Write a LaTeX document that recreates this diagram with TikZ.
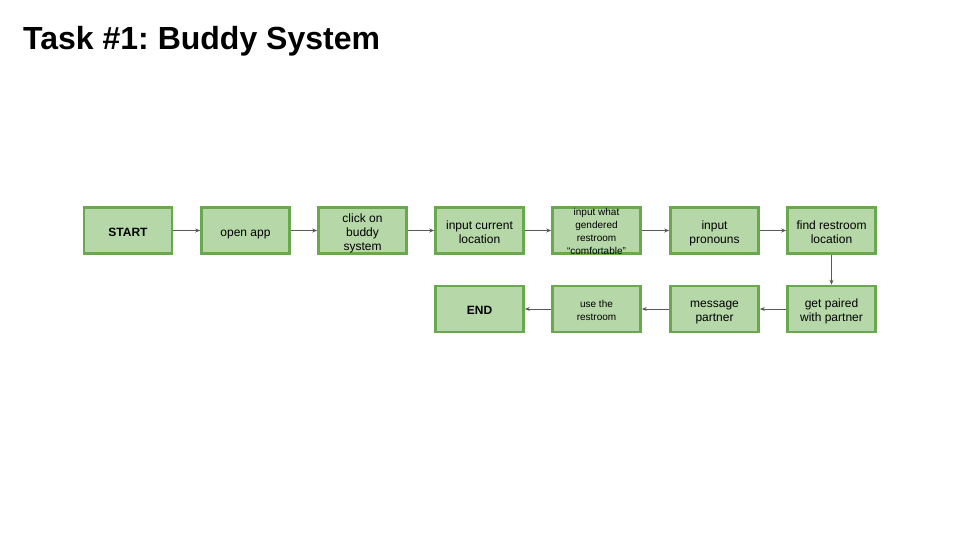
\documentclass[tikz,border=0pt]{standalone}
\usepackage{fontspec}
\setmainfont{Liberation Sans}
\usetikzlibrary{arrows.meta}
\frenchspacing
\newcommand{\boxtext}[2]{\raisebox{#1}[0pt][0pt]{\begin{tabular}{@{}c@{}}#2\end{tabular}}}
\begin{document}
\begin{tikzpicture}[x=1pt,y=-1pt,
  stepbox/.style={draw=boxborder,fill=boxfill,line width=2.6pt,minimum width=88pt,minimum height=46pt,inner sep=0pt,font=\fontsize{12}{14}\selectfont,text=black},
  smallbox/.style={stepbox,font=\fontsize{10}{13}\selectfont},
  conn/.style={draw=arrowgray,line width=0.8pt,-{Stealth[length=5pt,width=4pt]}}]
\definecolor{boxfill}{HTML}{B6D7A8}
\definecolor{boxborder}{HTML}{6AA84F}
\definecolor{arrowgray}{HTML}{595959}
\useasboundingbox (0,0) rectangle (960,540);
\node[anchor=base west,inner sep=0pt,font=\fontsize{32}{38}\selectfont\bfseries] (title) at (23,50) {Task \#1: Buddy System};
\node[stepbox] (s1) at (128,230.5) {\boxtext{-5.8pt}{\textbf{START}}};
\node[stepbox] (s2) at (245.5,230.5) {\boxtext{-5.8pt}{open app}};
\node[stepbox] (s3) at (362.5,230.5) {\boxtext{-5.8pt}{click on\\buddy\\system}};
\node[stepbox] (s4) at (479.5,230.5) {\boxtext{-5.8pt}{input current\\location}};
\node[smallbox] (s5) at (596.5,230.5) {\boxtext{-4.6pt}{input what\\gendered\\restroom\\\char"201C comfortable\char"201D}};
\node[stepbox] (s6) at (714.5,230.5) {\boxtext{-5.8pt}{input\\pronouns}};
\node[stepbox] (s7) at (831.5,230.5) {\boxtext{-5.8pt}{find restroom\\location}};
\node[stepbox] (s8) at (831.5,309) {\boxtext{-5.8pt}{get paired\\with partner}};
\node[stepbox] (s9) at (714.5,309) {\boxtext{-5.8pt}{message\\partner}};
\node[smallbox] (s10) at (596.5,309) {\boxtext{-4.6pt}{use the\\restroom}};
\node[stepbox] (s11) at (479.5,309) {\boxtext{-5.8pt}{\textbf{END}}};
\draw[conn] (s1) -- (s2);
\draw[conn] (s2) -- (s3);
\draw[conn] (s3) -- (s4);
\draw[conn] (s4) -- (s5);
\draw[conn] (s5) -- (s6);
\draw[conn] (s6) -- (s7);
\draw[conn] (s7) -- (s8);
\draw[conn] (s8) -- (s9);
\draw[conn] (s9) -- (s10);
\draw[conn] (s10) -- (s11);
\end{tikzpicture}
\end{document}
